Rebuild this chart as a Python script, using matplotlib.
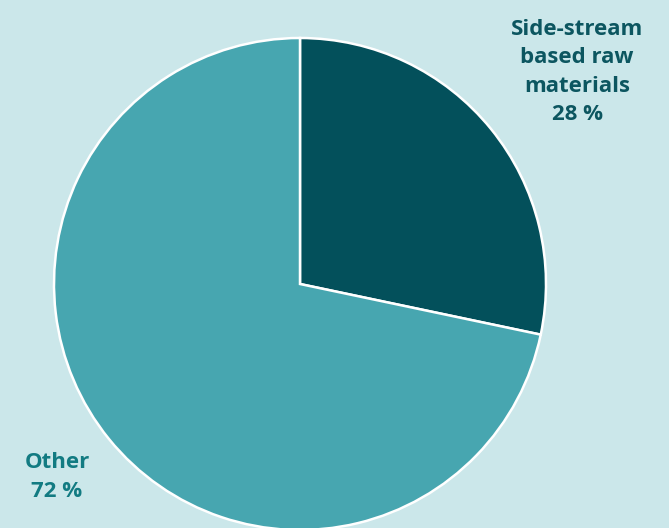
import matplotlib.pyplot as plt

labels = ['Side-stream\nbased raw\nmaterials\n28 %', 'Other\n72 %']
values = [28.3, 71.7]
colors = ['#03505b', '#47a6b0']
label_colors = ['#0c5660', '#127b82']

W, H = 669, 528
fig = plt.figure(figsize=(W / 100, H / 100), dpi=100)
fig.patch.set_facecolor('#cbe7ea')
ax = fig.add_axes([0, 0, 1, 1])

ax.pie(values, colors=colors, startangle=90, counterclock=False,
       center=(300, H - 284), radius=246,
       wedgeprops=dict(edgecolor='white', linewidth=1.8), frame=True)
ax.set_xlim(0, W)
ax.set_ylim(0, H)
ax.set_aspect('equal')
ax.axis('off')

# labels placed outside the pie
ax.text(577, H - 72, labels[0], ha='center', va='center', fontsize=16,
        fontweight='bold', color=label_colors[0], family='Open Sans',
        linespacing=1.47)
ax.text(57, H - 477, labels[1], ha='center', va='center', fontsize=16,
        fontweight='bold', color=label_colors[1], family='Open Sans',
        linespacing=1.47)

plt.savefig('out.png', dpi=100, facecolor=fig.get_facecolor())
